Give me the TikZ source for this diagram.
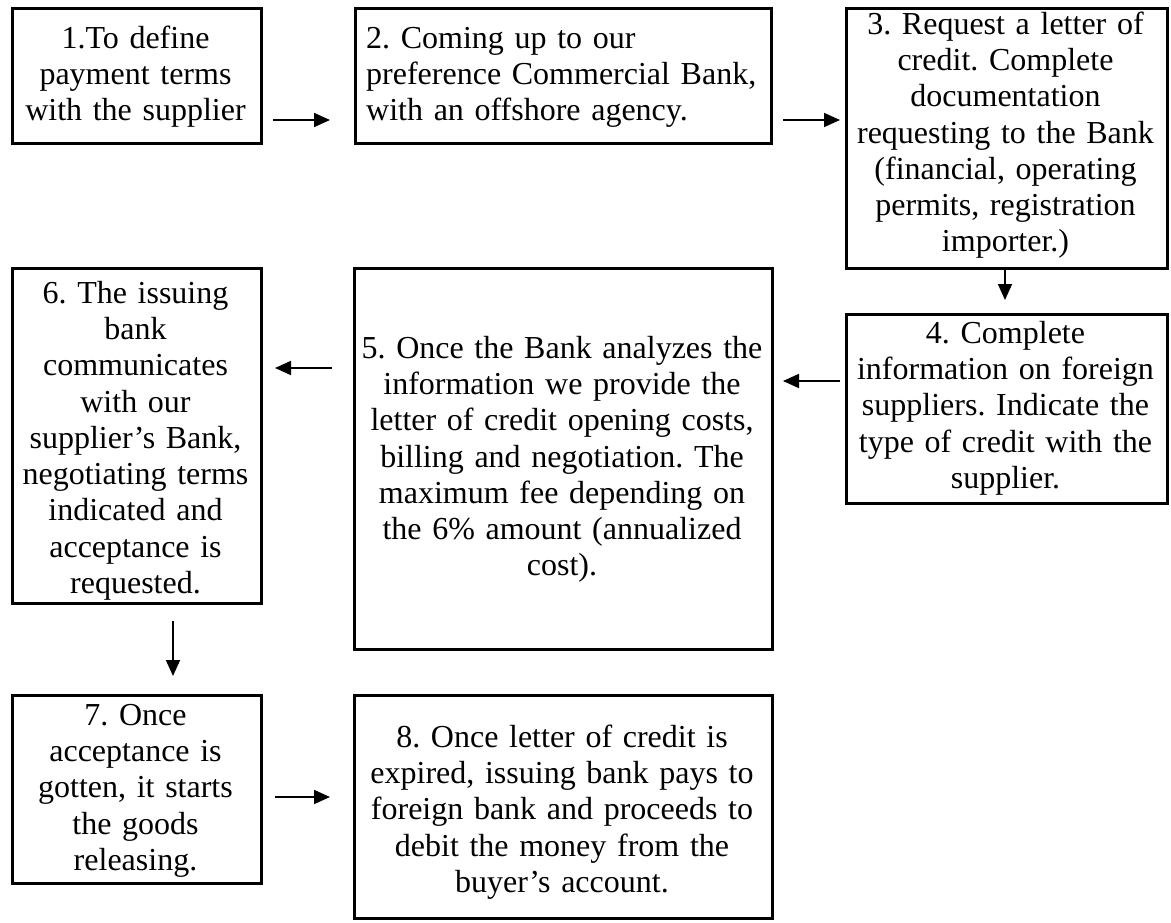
\documentclass[tikz,border=0pt]{standalone}
\usepackage{fontspec}
\setmainfont{Liberation Serif}
\usetikzlibrary{arrows.meta}
\frenchspacing
\begin{document}
\begin{tikzpicture}[x=1pt,y=1pt,
  stepbox/.style={draw=black,line width=3pt,inner sep=0pt,anchor=north west},
  txt/.style={inner sep=0pt,align=center,font=\fontsize{32}{36.3}\selectfont},
  txtl/.style={inner sep=0pt,align=left,font=\fontsize{32}{36.3}\selectfont},
  arr/.style={line width=1.7pt,-{Triangle[length=16pt,width=14pt]}}]
\useasboundingbox (0,0) rectangle (1171,-923);
\newcommand{\fl}{\rule{0pt}{26pt}}
% boxes
\node[stepbox,minimum width=249pt,minimum height=135pt] (b1) at (11,-7) {};
\node[stepbox,minimum width=416pt,minimum height=135pt] (b2) at (354,-7) {};
\node[stepbox,minimum width=321pt,minimum height=260pt] (b3) at (845,-7) {};
\node[stepbox,minimum width=321pt,minimum height=189pt] (b4) at (845,-313) {};
\node[stepbox,minimum width=418pt,minimum height=381pt] (b5) at (353,-267) {};
\node[stepbox,minimum width=249pt,minimum height=335pt] (b6) at (11,-267) {};
\node[stepbox,minimum width=249pt,minimum height=188pt] (b7) at (11,-694) {};
\node[stepbox,minimum width=418pt,minimum height=223pt] (b8) at (353,-694) {};
% texts
\node[txt,text width=240pt,anchor=north] (t1) at (135.5,-22) {\fl 1.To define\\payment terms\\with the supplier};
\node[txtl,text width=400pt,anchor=north west] (t2) at (366,-22) {\fl 2. Coming up to our\\preference Commercial Bank,\\with an offshore agency.};
\node[txt,text width=315pt,anchor=north] (t3) at (1005.5,-8) {\fl 3. Request a letter of\\credit. Complete\\documentation\\requesting to the Bank\\(financial, operating\\permits, registration\\importer.)};
\node[txt,text width=315pt,anchor=north] (t4) at (1005.5,-317) {\fl 4. Complete\\information on foreign\\suppliers. Indicate the\\type of credit with the\\supplier.};
\node[txt,text width=410pt,anchor=north] (t5) at (562,-332) {\fl 5. Once the Bank analyzes the\\information we provide the\\letter of credit opening costs,\\billing and negotiation. The\\maximum fee depending on\\the 6\% amount (annualized\\cost).};
\node[txt,text width=240pt,anchor=north] (t6) at (135.5,-277) {\fl 6. The issuing\\bank\\communicates\\with our\\supplier’s Bank,\\negotiating terms\\indicated and\\acceptance is\\requested.};
\node[txt,text width=240pt,anchor=north] (t7) at (135.5,-699) {\fl 7. Once\\acceptance is\\gotten, it starts\\the goods\\releasing.};
\node[txt,text width=410pt,anchor=north] (t8) at (562,-721) {\fl 8. Once letter of credit is\\expired, issuing bank pays to\\foreign bank and proceeds to\\debit the money from the\\buyer’s account.};
% connector rails
\coordinate (r12) at (0,-120);
\coordinate (r23) at (0,-120);
\coordinate (r34) at (1005,0);
\coordinate (r45) at (0,-381);
\coordinate (r56) at (0,-368);
\coordinate (r67) at (173,0);
\coordinate (r78) at (0,-797);
% arrows
\draw[arr,shorten <=10pt,shorten >=24pt] (b1.east |- r12) -- (b2.west |- r12);
\draw[arr,shorten <=10pt,shorten >=5pt] (b2.east |- r23) -- (b3.west |- r23);
\draw[arr,shorten <=0pt,shorten >=13pt] (b3.south -| r34) -- (b4.north -| r34);
\draw[arr,shorten <=5pt,shorten >=9pt] (b4.west |- r45) -- (b5.east |- r45);
\draw[arr,shorten <=21pt,shorten >=12pt] (b5.west |- r56) -- (b6.east |- r56);
\draw[arr,shorten <=16pt,shorten >=18pt] (b6.south -| r67) -- (b7.north -| r67);
\draw[arr,shorten <=12pt,shorten >=23pt] (b7.east |- r78) -- (b8.west |- r78);
\end{tikzpicture}
\end{document}
